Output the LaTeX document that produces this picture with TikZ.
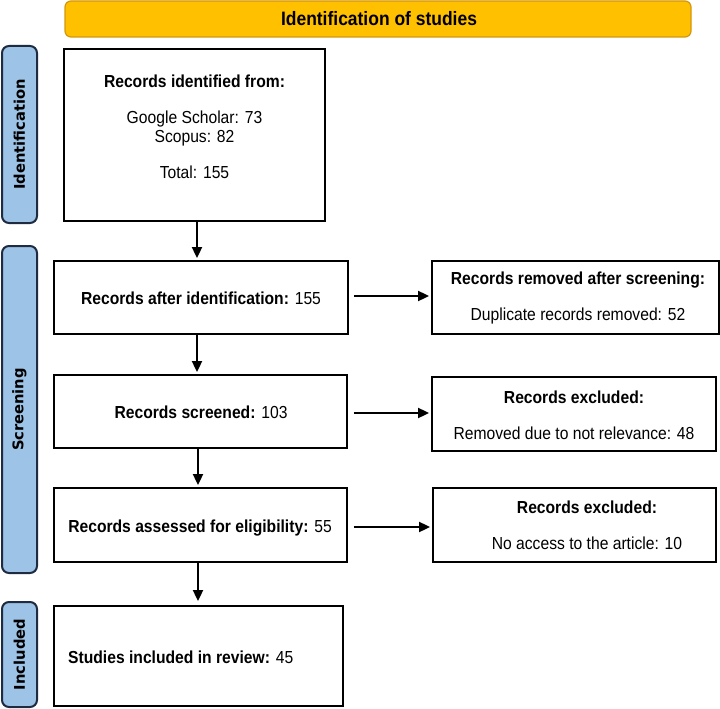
\documentclass[tikz,border=0pt]{standalone}
\usepackage{fontspec}
\setmainfont{Liberation Sans}[FakeStretch=0.9]
\newfontfamily\sidefont{DejaVu Sans}
\usetikzlibrary{arrows.meta}
\definecolor{bannerfill}{HTML}{FFC000}
\definecolor{bannerdraw}{HTML}{D4960A}
\definecolor{sidefill}{HTML}{9DC3E6}
\definecolor{sidedraw}{HTML}{1E2B40}
\begin{document}
\begin{tikzpicture}[x=1pt,y=-1pt,
  box/.style={draw=black, line width=1.8pt, inner sep=0pt, fill=white},
  sidelab/.style={draw=sidedraw, fill=sidefill, line width=2pt, rounded corners=7pt,
    inner sep=0pt, rotate=90, font=\sidefont\bfseries\fontsize{14.7pt}{17pt}\selectfont},
  banner/.style={draw=bannerdraw, fill=bannerfill, line width=1.2pt, rounded corners=6pt, inner sep=0pt},
  txt/.style={inner sep=0pt, anchor=base, font=\fontsize{17.4pt}{20pt}\selectfont},
  arr/.style={line width=1.8pt, -{Triangle[length=11pt,width=10pt]}}
]
\useasboundingbox (0,0) rectangle (720,709);

% banner
\node[banner, minimum width=626pt, minimum height=36pt] (ban) at (378,19) {};
\node[txt, font=\bfseries\fontsize{19.4pt}{22pt}\selectfont] (bantxt) at (379,26) {Identification of studies};

% side labels
\node[sidelab, minimum width=177pt, minimum height=35pt] (lid) at (19.5,134.5) {Identification};
\node[sidelab, minimum width=327pt, minimum height=35pt] (lsc) at (19.5,409.5) {Screening};
\node[sidelab, minimum width=105pt, minimum height=35pt] (lin) at (19.5,654.5) {Included};

% main boxes
\node[box, minimum width=261pt, minimum height=172pt] (b1) at (194.5,135) {};
\node[box, minimum width=294pt, minimum height=73pt] (b2) at (201,297.5) {};
\node[box, minimum width=293pt, minimum height=73pt] (b3) at (200.5,411.5) {};
\node[box, minimum width=293pt, minimum height=74pt] (b4) at (200.5,525) {};
\node[box, minimum width=289pt, minimum height=100pt] (b5) at (198.5,656) {};

% right boxes
\node[box, minimum width=287pt, minimum height=73pt] (r1) at (575.5,297.5) {};
\node[box, minimum width=284pt, minimum height=74pt] (r2) at (574,414) {};
\node[box, minimum width=283pt, minimum height=74pt] (r3) at (574.5,525) {};

% texts
\node[txt] (t1a) at (194.5,87.2) {\textbf{Records identified from:}};
\node[txt] (t1b) at (194.5,123.2) {Google Scholar: 73};
\node[txt] (t1c) at (194.5,142.2) {Scopus: 82};
\node[txt] (t1d) at (194.5,178.2) {Total: 155};
\node[txt] (t2) at (201,304.2) {\textbf{Records after identification:} 155};
\node[txt] (t3) at (201,418.2) {\textbf{Records screened:} 103};
\node[txt] (t4) at (200,532.2) {\textbf{Records assessed for eligibility:} 55};
\node[txt, anchor=base west] (t5) at (68,663.2) {\textbf{Studies included in review:} 45};
\node[txt] (r1a) at (578,284.2) {\textbf{Records removed after screening:}};
\node[txt] (r1b) at (578,320.2) {Duplicate records removed: 52};
\node[txt] (r2a) at (574,403.2) {\textbf{Records excluded:}};
\node[txt] (r2b) at (574,439.2) {Removed due to not relevance: 48};
\node[txt] (r3a) at (587,513.2) {\textbf{Records excluded:}};
\node[txt] (r3b) at (587,549.2) {No access to the article: 10};

% arrows
\coordinate (va) at (197,0);
\coordinate (vb) at (198,0);
\coordinate (h1) at (0,296);
\coordinate (h2) at (0,413);
\coordinate (h3) at (0,527);
\draw[arr, shorten >=2pt] (b1.south -| va) -- (b2.north -| va);
\draw[arr, shorten >=2pt] (b2.south -| va) -- (b3.north -| va);
\draw[arr, shorten >=2pt] (b3.south -| vb) -- (b4.north -| vb);
\draw[arr, shorten >=4pt] (b4.south -| vb) -- (b5.north -| vb);
\draw[arr, shorten <=5pt, shorten >=2pt] (b2.east |- h1) -- (r1.west |- h1);
\draw[arr, shorten <=6pt, shorten >=2pt] (b3.east |- h2) -- (r2.west |- h2);
\draw[arr, shorten <=6pt, shorten >=2pt] (b4.east |- h3) -- (r3.west |- h3);
\end{tikzpicture}
\end{document}
